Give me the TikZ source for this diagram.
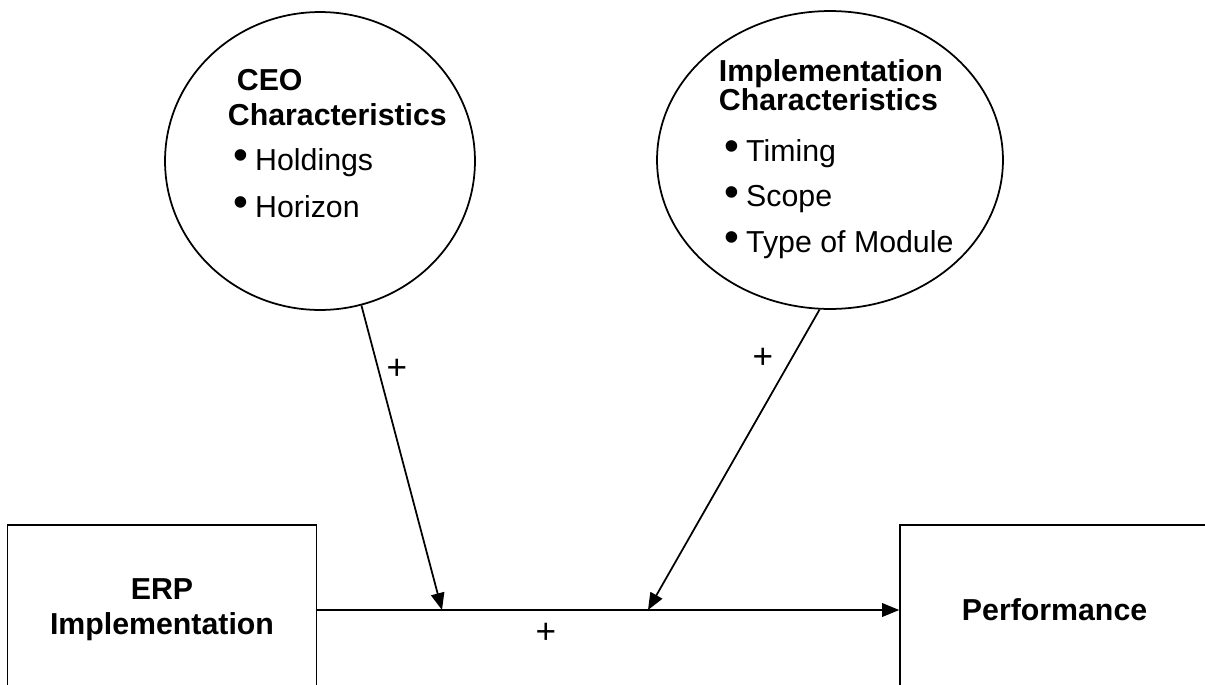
\documentclass[tikz,border=0pt]{standalone}
\usepackage{fontspec}
\setmainfont{Liberation Sans}
\usetikzlibrary{arrows.meta,positioning,shapes.geometric}

\newcommand{\itm}{\hspace*{0.12cm}\raisebox{0.05ex}{\scalebox{1.4}{\textbullet}}\hspace{0.13cm}}

\begin{document}
\begin{tikzpicture}[x=0.02cm, y=-0.02cm, node distance=11.64cm,
    >={Triangle[length=0.34cm,width=0.27cm]},
    line width=1pt,
    blob/.style={draw, ellipse, inner sep=0pt},
    blk/.style={draw, minimum width=6.18cm, minimum height=3.4cm, align=center,
      font=\bfseries\fontsize{17.25}{20}\selectfont},
    txt/.style={align=left, inner sep=0pt, anchor=base west,
      font=\fontsize{17.25}{20}\selectfont},
    sign/.style={inner sep=0pt, font=\fontsize{20}{22}\selectfont}]
   \clip (0,0) rectangle (1205,684);

   \node [blk] (erp) at (162,610) {ERP\\Implementation};
   \node [blk, right=of erp] (perf) {Performance};

   \node [blob, minimum width=6.2cm, minimum height=5.96cm] (ceo) at (320,161) {};
   \node [blob, minimum width=6.92cm, minimum height=5.96cm] (impl) at (830,160) {};

   % base anchor = baseline of the last line
   \node [txt] (ceotxt) at (227,217)
     {\textbf{\hspace*{0.18cm}CEO}\\\textbf{Characteristics}\\[0.2cm]
      \itm Holdings\\[0.23cm]\itm Horizon};
   \node [txt] (impltxt) at (718,252)
     {\textbf{Implementation}\\[-0.13cm]\textbf{Characteristics}\\[0.32cm]
      \itm Timing\\[0.2cm]\itm Scope\\[0.2cm]\itm Type of Module};

   \coordinate (j1) at (442,610);
   \coordinate (j2) at (648,610);

   \draw [->] (erp) -- (perf);
   \draw [->] (ceo.-74) -- (j1);
   \draw [->] (impl.-94) -- (j2);

   \node [sign] (p1) at (397,369) {+};
   \node [sign] (p2) at (763,358) {+};
   \node [sign] (p3) at (546,633) {+};
\end{tikzpicture}
\end{document}
